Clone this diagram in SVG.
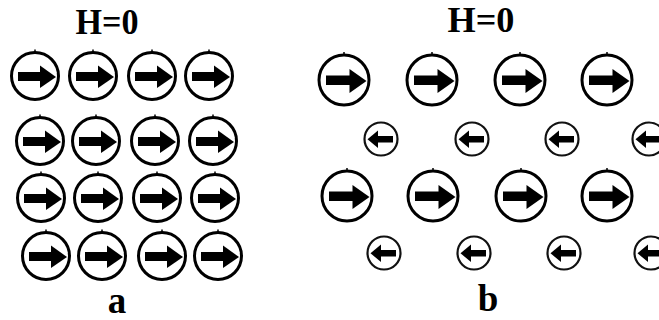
<svg xmlns="http://www.w3.org/2000/svg" xmlns:xlink="http://www.w3.org/1999/xlink" width="659" height="320" viewBox="0 0 659 320">
<style>
.lbl{font-family:"Liberation Serif","Times New Roman",serif;font-weight:bold;fill:#000;text-anchor:middle}
.ring{fill:#fff;stroke:#000;stroke-width:3}
.ring2{fill:#fff;stroke:#111;stroke-width:2.2}
</style>
<defs>
<g id="bigR">
<circle class="ring" r="23.5"/>
<line x1="0" y1="-23.5" x2="0" y2="-26.5" stroke="#000" stroke-width="1.5"/>
<rect x="-17" y="-4" width="23" height="9" fill="#000"/>
<polygon points="5,-10.5 21,1 5,12" fill="#000"/>
<line x1="17" y1="-8" x2="21" y2="-3" stroke="#fff" stroke-width="1.5"/>
</g>
<g id="bigRb">
<circle class="ring" r="25"/>
<line x1="0" y1="-25" x2="0" y2="-28" stroke="#000" stroke-width="1.5"/>
<rect x="-18" y="-4.5" width="24.5" height="9.5" fill="#000"/>
<polygon points="5.5,-11 22.5,1 5.5,13" fill="#000"/>
<line x1="18" y1="-8.5" x2="22.5" y2="-3" stroke="#fff" stroke-width="1.5"/>
</g>
<g id="smallL">
<circle class="ring2" r="16.5"/>
<rect x="-5" y="-3" width="17" height="6.5" fill="#000"/>
<polygon points="-3,-8.5 -13.5,0.3 -3,9" fill="#000"/>
</g>
</defs>

<text class="lbl" x="107" y="34" font-size="36" textLength="63" lengthAdjust="spacingAndGlyphs">H=0</text>
<text class="lbl" x="481" y="32" font-size="36" textLength="67" lengthAdjust="spacingAndGlyphs">H=0</text>
<text class="lbl" x="117" y="313" font-size="37">a</text>
<text class="lbl" x="488" y="311" font-size="37">b</text>

<g id="panel-a">
<g id="a-r1c1"><use xlink:href="#bigR" x="35" y="76"/></g>
<g id="a-r1c2"><use xlink:href="#bigR" x="93" y="76"/></g>
<g id="a-r1c3"><use xlink:href="#bigR" x="152" y="76"/></g>
<g id="a-r1c4"><use xlink:href="#bigR" x="209" y="76"/></g>
<g id="a-r2c1"><use xlink:href="#bigR" x="40" y="141"/></g>
<g id="a-r2c2"><use xlink:href="#bigR" x="96" y="141"/></g>
<g id="a-r2c3"><use xlink:href="#bigR" x="155" y="141"/></g>
<g id="a-r2c4"><use xlink:href="#bigR" x="213" y="141"/></g>
<g id="a-r3c1"><use xlink:href="#bigR" x="41" y="198"/></g>
<g id="a-r3c2"><use xlink:href="#bigR" x="98" y="198"/></g>
<g id="a-r3c3"><use xlink:href="#bigR" x="157" y="198"/></g>
<g id="a-r3c4"><use xlink:href="#bigR" x="215" y="198"/></g>
<g id="a-r4c1"><use xlink:href="#bigR" x="46" y="256"/></g>
<g id="a-r4c2"><use xlink:href="#bigR" x="102" y="256"/></g>
<g id="a-r4c3"><use xlink:href="#bigR" x="162" y="256"/></g>
<g id="a-r4c4"><use xlink:href="#bigR" x="218" y="256"/></g>
</g>

<g id="panel-b">
<g id="b-r1c1"><use xlink:href="#bigRb" x="344" y="80"/></g>
<g id="b-r1c2"><use xlink:href="#bigRb" x="432" y="80"/></g>
<g id="b-r1c3"><use xlink:href="#bigRb" x="520" y="80"/></g>
<g id="b-r1c4"><use xlink:href="#bigRb" x="607" y="80"/></g>
<g id="b-r2c1"><use xlink:href="#smallL" x="381" y="139"/></g>
<g id="b-r2c2"><use xlink:href="#smallL" x="472" y="139"/></g>
<g id="b-r2c3"><use xlink:href="#smallL" x="562" y="139"/></g>
<g id="b-r2c4"><use xlink:href="#smallL" x="649" y="139"/></g>
<g id="b-r3c1"><use xlink:href="#bigRb" x="347" y="196"/></g>
<g id="b-r3c2"><use xlink:href="#bigRb" x="433" y="196"/></g>
<g id="b-r3c3"><use xlink:href="#bigRb" x="521" y="196"/></g>
<g id="b-r3c4"><use xlink:href="#bigRb" x="607" y="196"/></g>
<g id="b-r4c1"><use xlink:href="#smallL" x="384" y="253"/></g>
<g id="b-r4c2"><use xlink:href="#smallL" x="474" y="253"/></g>
<g id="b-r4c3"><use xlink:href="#smallL" x="564" y="253"/></g>
<g id="b-r4c4"><use xlink:href="#smallL" x="651" y="253"/></g>
</g>
<g id="connectors"></g>
</svg>
